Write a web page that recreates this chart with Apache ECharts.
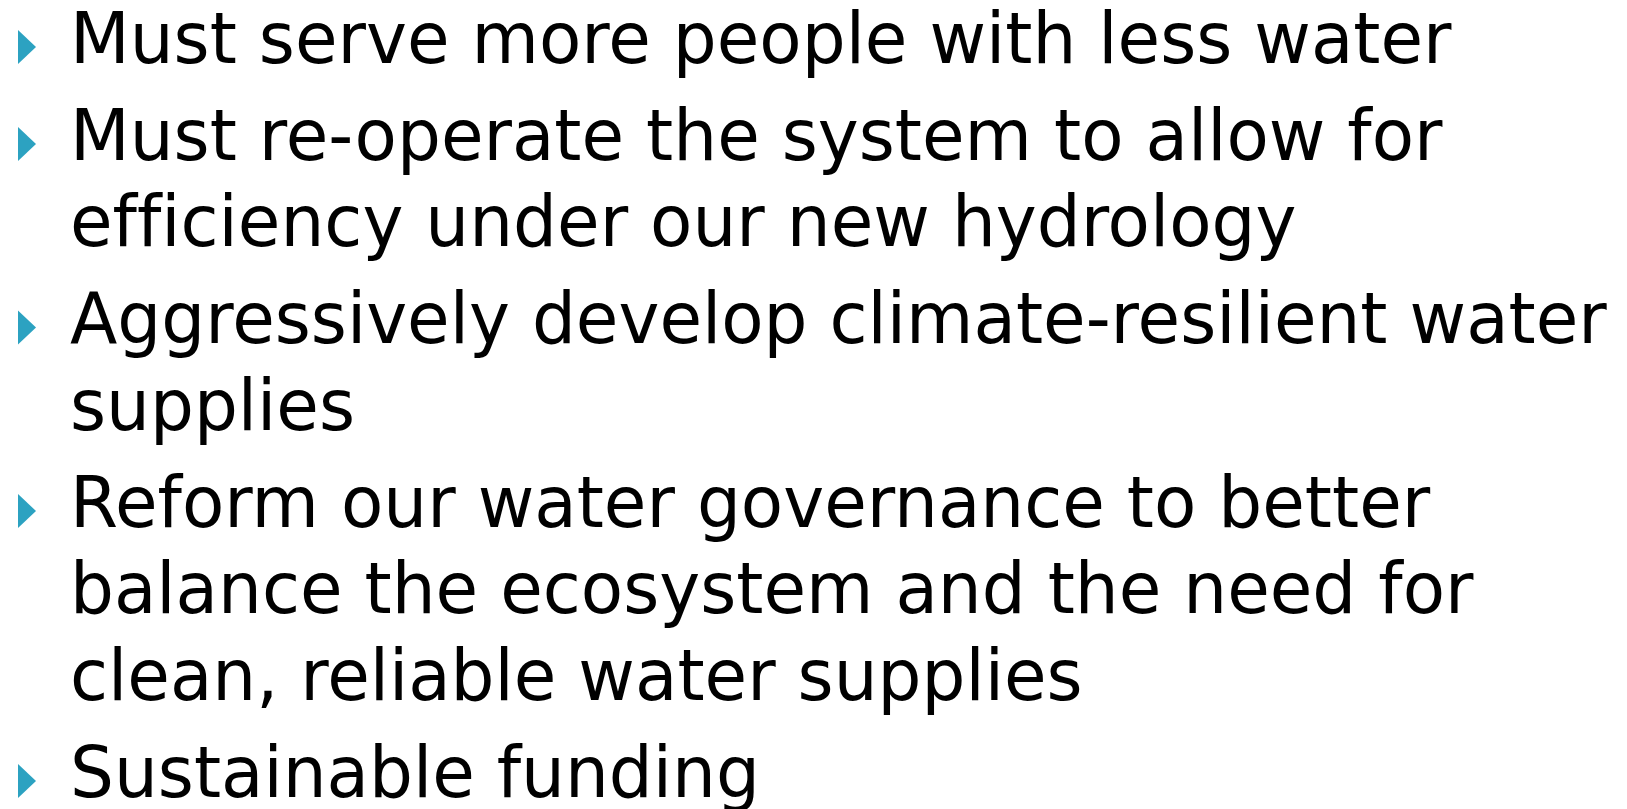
<!DOCTYPE html>
<html>
<head>
<meta charset="utf-8">
<script src="https://cdn.jsdelivr.net/npm/echarts@6/dist/echarts.min.js"></script>
<style>
  html, body { margin: 0; padding: 0; background: #fff; }
  #slide { width: 1627px; height: 809px; }
</style>
</head>
<body>
<div id="slide"></div>
<script>
// bullet points, each one a list of wrapped lines
var bullet1 = ['Must serve more people with less water'];
var bullet2 = ['Must re-operate the system to allow for', 'efficiency under our new hydrology'];
var bullet3 = ['Aggressively develop climate-resilient water', 'supplies'];
var bullet4 = ['Reform our water governance to better', 'balance the ecosystem and the need for', 'clean, reliable water supplies'];
var bullet5 = ['Sustainable funding'];
var bullets = [bullet1, bullet2, bullet3, bullet4, bullet5];

// layout
var textLeft = 70;
var firstBase = 63;     // baseline of first line
var linePitch = 86.5;   // wrapped lines
var bulletGap = 10.5;   // extra space before a new bullet
var fontSize = 71;
var textScaleX = 0.975;
var midOffset = 18.5;   // canvas middle -> alphabetic baseline
var fontFamily = '"DejaVu Sans", sans-serif';
var bulletColor = '#2ca2c1';

var slide = echarts.init(document.getElementById('slide'));

var elements = [];
var base = firstBase - linePitch - bulletGap;
bullets.forEach(function (lines) {
    base += bulletGap;
    lines.forEach(function (txt, li) {
        base += linePitch;
        if (li === 0) {
            // triangle marker
            elements.push({
                type: 'polygon',
                shape: { points: [[18, base - 33], [36, base - 16], [18, base + 1]] },
                style: { fill: bulletColor }
            });
        }
        elements.push({
            type: 'text',
            x: textLeft,
            y: base - midOffset,
            scaleX: textScaleX,
            style: {
                // break the fi / ff ligatures, the slide font has none
                text: txt.replace(/f(?=[fil])/g, 'f\u200C'),
                font: fontSize + 'px ' + fontFamily,
                fill: '#000',
                verticalAlign: 'middle'
            }
        });
    });
});

slide.setOption({
    backgroundColor: '#fff',
    graphic: { elements: elements }
});
</script>
</body>
</html>
